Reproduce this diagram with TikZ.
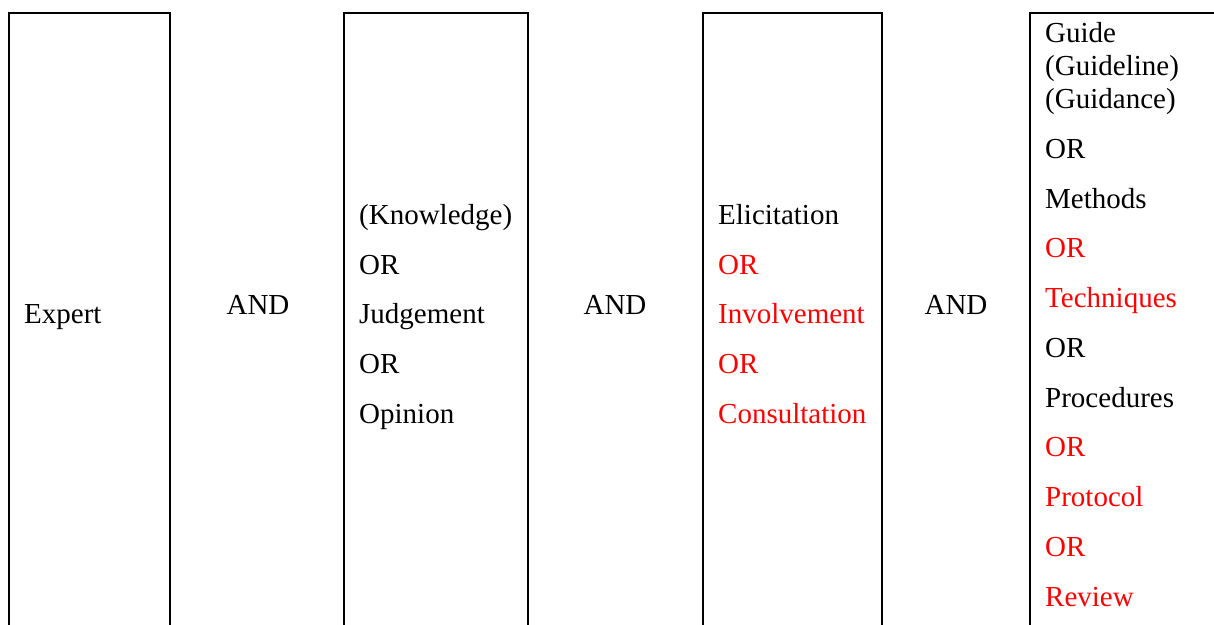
\documentclass[tikz,border=0pt]{standalone}
\usepackage{fontspec}
\setmainfont{Liberation Serif}
\begin{document}
\begin{tikzpicture}[x=1pt,y=-1pt,
  boxline/.style={line width=2pt, line cap=rect},
  txt/.style={anchor=base west, inner sep=0pt, font=\fontsize{29}{34}\selectfont},
  andtxt/.style={anchor=base, inner sep=0pt, font=\fontsize{29}{34}\selectfont},
  hl/.style={text=red}]
\useasboundingbox (0,0) rectangle (1214,624);
% boxes (open at the bottom / right, running off the page)
\draw[boxline] (9,630) -- (9,13) -- (170,13) -- (170,630);
\draw[boxline] (344,630) -- (344,13) -- (528,13) -- (528,630);
\draw[boxline] (703,630) -- (703,13) -- (882,13) -- (882,630);
\draw[boxline] (1030,630) -- (1030,13) -- (1220,13);
% column 1
\node[txt] (expert) at (24,323) {Expert};
\node[andtxt] (and1) at (258,314) {AND};
% column 2
\node[txt] (know) at (359,224) {(Knowledge)};
\node[txt] (or21) at (359,274) {OR};
\node[txt] (judge) at (359,323) {Judgement};
\node[txt] (or22) at (359,373) {OR};
\node[txt] (opin) at (359,423) {Opinion};
\node[andtxt] (and2) at (615,314) {AND};
% column 3
\node[txt] (elic) at (718,224) {Elicitation};
\node[txt,hl] (or31) at (718,274) {OR};
\node[txt,hl] (invol) at (718,323) {Involvement};
\node[txt,hl] (or32) at (718,373) {OR};
\node[txt,hl] (consul) at (718,423) {Consultation};
\node[andtxt] (and3) at (956,314) {AND};
% column 4
\node[txt] (guide) at (1045,42) {Guide};
\node[txt] (guideline) at (1045,75) {(Guideline)};
\node[txt] (guidance) at (1045,108) {(Guidance)};
\node[txt] (or41) at (1045,158) {OR};
\node[txt] (methods) at (1045,208) {Methods};
\node[txt,hl] (or42) at (1045,257) {OR};
\node[txt,hl] (tech) at (1045,307) {Techniques};
\node[txt] (or43) at (1045,357) {OR};
\node[txt] (proc) at (1045,407) {Procedures};
\node[txt,hl] (or44) at (1045,456) {OR};
\node[txt,hl] (proto) at (1045,506) {Protocol};
\node[txt,hl] (or45) at (1045,556) {OR};
\node[txt,hl] (review) at (1045,606) {Review};
\end{tikzpicture}
\end{document}
